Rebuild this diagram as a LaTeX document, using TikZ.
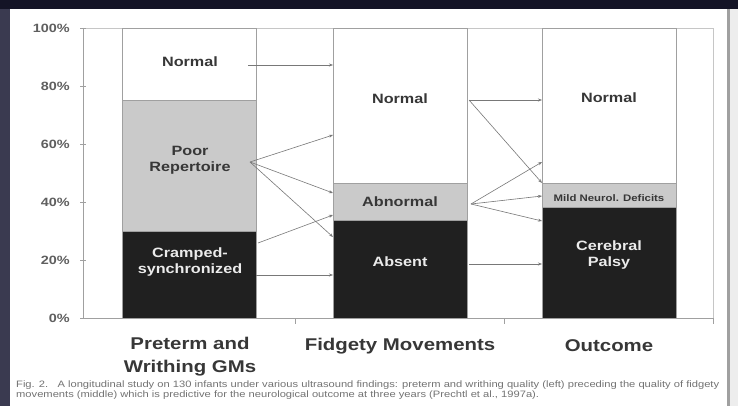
\documentclass[tikz,border=0pt]{standalone}
\usepackage{fontspec}
\setmainfont{Liberation Sans}[FakeStretch=1.2]
\usetikzlibrary{arrows.meta}
\definecolor{slidebg}{RGB}{20,20,38}
\definecolor{sidebg}{RGB}{58,58,80}
\definecolor{framegray}{RGB}{160,160,160}
\definecolor{poorgray}{RGB}{202,202,202}
\definecolor{darkfill}{RGB}{32,32,32}
\definecolor{labelgray}{RGB}{55,55,55}
\definecolor{flowgray}{RGB}{120,120,120}

\begin{document}
\begin{tikzpicture}[x=1pt, y=-1pt,
  every node/.style={align=center, inner sep=0pt},
  seg/.style={rectangle, draw=framegray, line width=0.6pt, anchor=north west, minimum width=134pt},
  barlabel/.style={text=labelgray, font=\bfseries\fontsize{13.5}{16}\selectfont},
  darklabel/.style={text=white!92!black, font=\bfseries\fontsize{13.5}{16}\selectfont},
  catlabel/.style={text=labelgray, font=\bfseries\fontsize{17}{23}\selectfont},
  pctlabel/.style={text=labelgray!80, anchor=east, font=\bfseries\fontsize{12}{13}\selectfont},
  flow/.style={draw=flowgray, line width=0.6pt, -{Stealth[length=4pt, width=3pt]}}]

  % slide background and page
  \useasboundingbox (0,0) rectangle (738,406);
  \fill[slidebg] (0,0) rectangle (738,406);
  \fill[sidebg] (0,9) rectangle (10,406);
  \fill[white] (10,9) rectangle (738,406);
  \fill[framegray] (727,9) rectangle (730,406);
  \fill[white!93!black] (730,9) rectangle (738,406);

  % plot frame and axes
  \draw[framegray!60, line width=0.5pt] (83,28) rectangle (713,318);
  \draw[framegray, line width=0.8pt] (83,28) -- (83,318) -- (713,318);
  \foreach \p/\lab in {0/0\%, 20/20\%, 40/40\%, 60/60\%, 80/80\%, 100/100\%} {
    \draw[framegray, line width=0.6pt] (80,318-2.9*\p) -- (86,318-2.9*\p);
    \node[pctlabel] (tick\p) at (70,318-2.9*\p) {\lab};
  }
  \foreach \x in {295, 504, 713}
    \draw[framegray, line width=0.6pt] (\x,318) -- (\x,324);

  % Preterm and writhing GMs
  \node[seg, fill=white, minimum height=72.5pt] (gmN) at (122,28) {};
  \node[seg, fill=poorgray, minimum height=130.5pt] (gmPR) at (122,100.5) {};
  \node[seg, fill=darkfill, minimum height=87pt] (gmCS) at (122,231) {};
  \node[barlabel] (txtgmN) at (190,62) {Normal};
  \node[barlabel] (txtgmPR) at (190,160) {Poor\\Repertoire};
  \node[darklabel] (txtgmCS) at (190,262) {Cramped-\\synchronized};

  % Fidgety movements
  \node[seg, fill=white, minimum height=155pt] (fmN) at (333,28) {};
  \node[seg, fill=poorgray, minimum height=36.5pt] (fmAB) at (333,183) {};
  \node[seg, fill=darkfill, minimum height=98.5pt] (fmAS) at (333,219.5) {};
  \node[barlabel] (txtfmN) at (400,99) {Normal};
  \node[barlabel] (txtfmAB) at (400,202) {Abnormal};
  \node[darklabel] (txtfmAS) at (400,262) {Absent};

  % Outcome
  \node[seg, fill=white, minimum height=155pt] (ocN) at (542,28) {};
  \node[seg, fill=poorgray, minimum height=24pt] (ocMD) at (542,183) {};
  \node[seg, fill=darkfill, minimum height=111pt] (ocCP) at (542,207) {};
  \node[barlabel] (txtocN) at (609,98) {Normal};
  \node[barlabel, font=\bfseries\fontsize{9.5}{11}\selectfont] (txtocMD) at (609,198) {Mild Neurol. Deficits};
  \node[darklabel] (txtocCP) at (609,255) {Cerebral\\Palsy};

  % category labels
  \node[catlabel] (catGM) at (190,357) {Preterm and\\Writhing GMs};
  \node[catlabel] (catFM) at (400,346) {Fidgety Movements};
  \node[catlabel] (catOC) at (609,346) {Outcome};

  % flow ports
  \coordinate (pN) at (248,65);
  \coordinate (pPR) at (250,162);
  \coordinate (pCSa) at (258,243);
  \coordinate (pCSb) at (256,275);
  \coordinate (qN) at (469,100);
  \coordinate (qAB) at (471,204);
  \coordinate (qAS) at (469,264);

  % GMs -> fidgety
  \draw[flow] (pN) -- (pN -| fmN.west);
  \draw[flow] (pPR) -- ([yshift=-107pt]fmN.north west);
  \draw[flow] (pPR) -- ([yshift=-165pt]fmN.north west);
  \draw[flow] (pPR) -- ([yshift=-209pt]fmN.north west);
  \draw[flow] (pCSa) -- ([yshift=-187pt]fmN.north west);
  \draw[flow] (pCSb) -- (pCSb -| fmN.west);

  % fidgety -> outcome
  \draw[flow] (qN) -- (qN -| ocN.west);
  \draw[flow] (qN) -- (ocMD.north west);
  \draw[flow] (qAB) -- ([yshift=-134pt]ocN.north west);
  \draw[flow] (qAB) -- ([yshift=-168pt]ocN.north west);
  \draw[flow] (qAB) -- ([yshift=-193pt]ocN.north west);
  \draw[flow] (qAS) -- (qAS -| ocN.west);

  % caption
  \node[anchor=north west, align=left, text=black!55, font=\fontsize{9.3}{10}\selectfont] (caption) at (16,381)
    {Fig. 2.\quad A longitudinal study on 130 infants under various ultrasound findings: preterm and writhing quality (left) preceding the quality of fidgety\\
     movements (middle) which is predictive for the neurological outcome at three years (Prechtl et al., 1997a).};
\end{tikzpicture}
\end{document}
